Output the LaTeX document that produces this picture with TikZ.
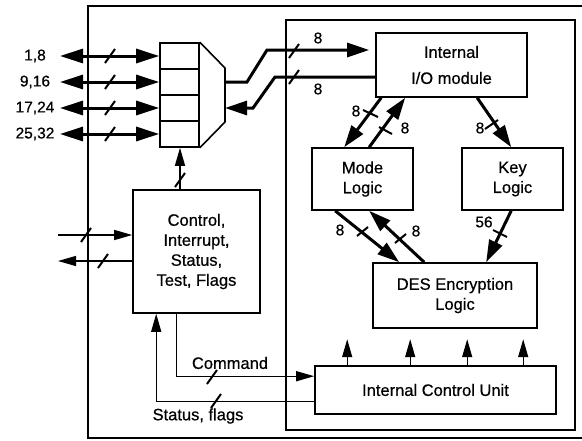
\documentclass[tikz,border=0pt]{standalone}
\usepackage{fontspec}
\setmainfont{Liberation Sans}
\newfontfamily\medfont[FakeBold=0.6]{Liberation Sans}
\usetikzlibrary{arrows.meta,calc}
\newcommand\bxfont{\medfont\fontsize{16.5}{20}\selectfont}
\newcommand\lbfont{\medfont\fontsize{15.5}{18}\selectfont}
\newcommand\mytick[1]{\draw[tk] ($(#1)+(-5,7)$) -- ($(#1)+(5,-7)$);}
\begin{document}
\begin{tikzpicture}[x=1pt,y=-1pt,
  frame/.style={line width=1.6pt},
  blk/.style={draw,line width=1.6pt,inner sep=0pt,align=center,font=\bxfont},
  cell/.style={draw,line width=1.6pt,inner sep=0pt,minimum width=39pt,minimum height=26pt},
  bus/.style={line width=3pt},
  busto/.style={bus,-{Triangle[length=22pt,width=14pt]}},
  busboth/.style={bus,{Triangle[length=23pt,width=14pt]}-{Triangle[length=23pt,width=14pt]}},
  thinline/.style={line width=1.3pt},
  thinto/.style={thinline,-{Triangle[length=18pt,width=10pt]}},
  tk/.style={line width=2pt},
  lbl/.style={font=\lbfont,inner sep=0pt},
  wlbl/.style={font=\bxfont,inner sep=0pt}]
\useasboundingbox (0,0) rectangle (582,440);

% frames
\draw[frame] (582,6) -- (88,6) -- (88,438) -- (582,438);
\node[draw,line width=1.6pt,minimum width=289pt,minimum height=410pt,inner sep=0pt] (inner) at (430.5,225) {};

% blocks
\node[blk,minimum width=151pt,minimum height=64pt] (io) at (451.5,65) {Internal\\[6pt]I/O module};
\node[blk,minimum width=101pt,minimum height=62pt] (mode) at (362.5,179) {Mode\\Logic};
\node[blk,minimum width=101pt,minimum height=62pt] (key) at (512.5,179) {Key\\Logic};
\node[blk,minimum width=164pt,minimum height=65pt] (des) at (455,295.5) {DES Encryption\\Logic};
\node[blk,minimum width=241pt,minimum height=48pt] (icu) at (435.5,390) {Internal Control Unit};
\node[blk,minimum width=127pt,minimum height=123pt] (ctrl) at (196.5,251.5) {Control,\\Interrupt,\\Status,\\Test, Flags};

% multiplexer
\node[cell] (m1) at (179.5,56) {};
\node[cell] (m2) at (179.5,82) {};
\node[cell] (m3) at (179.5,108) {};
\node[cell] (m4) at (179.5,134) {};
\draw[frame,line join=miter] (m1.north east) -- (225,68) -- (225,122) -- (m4.south east);
\coordinate (mo) at (225,82);
\coordinate (mi) at (225,108);

% external buses
\foreach \i/\t/\yy in {1/{1,8}/56,2/{9,16}/82,3/{17,24}/108,4/{25,32}/134}{
  \node[lbl] (l\i) at (35,\yy) {\t};
  \coordinate (b\i) at (60,\yy);
  \draw[busboth] (b\i) -- (m\i.west);
  \mytick{110,\yy}
}

% mux <-> I/O
\draw[busto,shorten >=6pt] (mo) -- (247,82) -- (267,50) -- (io.west |- 0,50);
\draw[busto] (io.west |- 0,77) -- (275,77) -- (253,108) -- (mi);
\mytick{294,51}
\mytick{294,77}
\node[lbl] (n1) at (318,38) {8};
\node[lbl] (n2) at (318,89) {8};

% I/O <-> Mode, Key
\draw[busto] ($(io.south west)+(6,0)$) -- ($(mode.north west)+(33,0)$);
\draw[busto] ($(mode.north west)+(58,0)$) -- ($(io.south west)+(30,0)$);
\draw[busto] ($(io.south west)+(102,0)$) -- ($(key.north west)+(50,0)$);
\draw[tk] (363,110) -- (378,117);
\draw[tk] (379,127) -- (392,134);
\draw[tk] (485,129) -- (498,120);
\node[lbl] (n3) at (356,111) {8};
\node[lbl] (n4) at (405,128) {8};
\node[lbl] (n5) at (480,128) {8};

% Mode <-> DES, Key -> DES
\draw[busto] ($(mode.south west)+(24,0)$) -- ($(des.north west)+(27,0)$);
\draw[busto] ($(des.north west)+(52,0)$) -- ($(mode.south west)+(58,0)$);
\draw[busto] ($(key.south west)+(50,0)$) -- ($(des.north west)+(114,0)$);
\draw[tk] (357,236) -- (368,227);
\draw[tk] (395,243) -- (406,234);
\draw[tk] (493,230) -- (507,237);
\node[lbl] (n6) at (340,230) {8};
\node[lbl] (n7) at (416,231) {8};
\node[lbl] (n8) at (484,222) {56};

% control unit arrows up
\foreach \dx in {33,96,153,209}{
  \draw[thinto] ($(icu.north west)+(\dx,0)$) -- ++(0,-26);
}

% control box links
\draw[thinto] (ctrl.north) ++(-16.5,0) coordinate (cm) (cm) -- (m4.south -| cm);
\mytick{180,180}
\coordinate (ci) at (58,235);
\coordinate (co) at (58,261);
\draw[thinto] (ci) -- (ctrl.west |- ci);
\draw[thinto] (ctrl.west |- co) -- (co);
\mytick{86,235}
\mytick{103,261}

% command / status
\draw[thinto] ($(ctrl.south west)+(44,0)$) |- ($(icu.north west)+(0,11)$);
\draw[thinto] ($(icu.south west)+(0,-13)$) -| ($(ctrl.south west)+(24,0)$);
\mytick{212,377}
\mytick{216,401}
\node[wlbl] (cmd) at (230,363) {Command};
\node[wlbl] (stf) at (198,416) {Status, flags};
\end{tikzpicture}
\end{document}
